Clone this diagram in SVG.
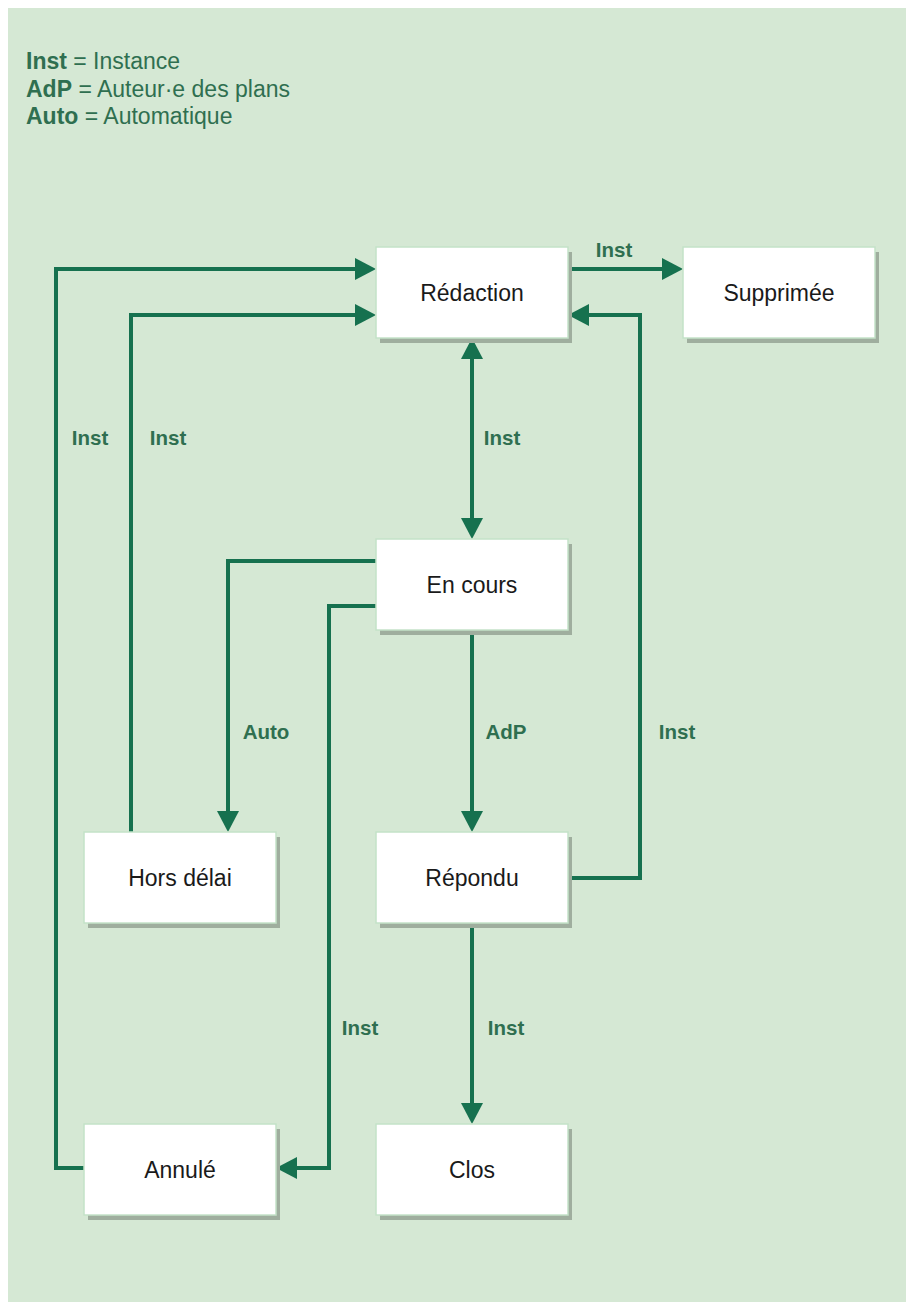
<svg xmlns="http://www.w3.org/2000/svg" width="906" height="1302" viewBox="0 0 906 1302">
  <style>
    .node rect.box { fill: #ffffff; stroke: #c4e2c8; stroke-width: 1.5; }
    .node rect.shadow { fill: #9fae9e; }
    .node text { font-family: "Liberation Sans", Arial, sans-serif; font-size: 23px; fill: #1a1a1a; text-anchor: middle; }
    .conn { fill: none; stroke: #16714f; stroke-width: 4; }
    .lbl { font-family: "Liberation Sans", Arial, sans-serif; font-size: 20.5px; font-weight: bold; fill: #2f6f50; text-anchor: middle; }
    .legend { font-family: "Liberation Sans", Arial, sans-serif; font-size: 23px; fill: #2f6f50; }
    .legend .b { font-weight: bold; }
  </style>
  <defs>
    <marker id="arr" viewBox="0 0 21 22" refX="0" refY="11" markerWidth="21" markerHeight="22" markerUnits="userSpaceOnUse" orient="auto-start-reverse">
      <path d="M0,0 L21,11 L0,22 Z" fill="#16714f"/>
    </marker>
  </defs>

  <rect x="8" y="8" width="898" height="1294" fill="#d5e8d4"/>

  <text class="legend" x="26" y="69"><tspan class="b">Inst</tspan> = Instance</text>
  <text class="legend" x="26" y="96.5"><tspan class="b">AdP</tspan> = Auteur·e des plans</text>
  <text class="legend" x="26" y="124"><tspan class="b">Auto</tspan> = Automatique</text>

  <g id="connectors">
    <path class="conn" d="M568,269 L662,269" marker-end="url(#arr)"/>
    <path class="conn" d="M472,359 L472,518" marker-start="url(#arr)" marker-end="url(#arr)"/>
    <path class="conn" d="M84,1168 L56,1168 L56,269 L355,269" marker-end="url(#arr)"/>
    <path class="conn" d="M131,832 L131,315 L355,315" marker-end="url(#arr)"/>
    <path class="conn" d="M376,561 L228,561 L228,811" marker-end="url(#arr)"/>
    <path class="conn" d="M376,606 L329,606 L329,1168 L297,1168" marker-end="url(#arr)"/>
    <path class="conn" d="M472,630 L472,811" marker-end="url(#arr)"/>
    <path class="conn" d="M568,878 L640,878 L640,315 L589,315" marker-end="url(#arr)"/>
    <path class="conn" d="M472,922 L472,1103" marker-end="url(#arr)"/>
    <text class="lbl" x="614" y="257">Inst</text>
    <text class="lbl" x="90" y="445">Inst</text>
    <text class="lbl" x="168" y="445">Inst</text>
    <text class="lbl" x="502" y="445">Inst</text>
    <text class="lbl" x="266" y="739">Auto</text>
    <text class="lbl" x="506" y="739">AdP</text>
    <text class="lbl" x="677" y="739">Inst</text>
    <text class="lbl" x="360" y="1035">Inst</text>
    <text class="lbl" x="506" y="1035">Inst</text>
  </g>

  <g id="redaction" class="node">
    <rect class="shadow" x="380" y="252" width="192" height="91"/>
    <rect class="box" x="376" y="247" width="192" height="91"/>
    <text x="472" y="300.5">Rédaction</text>
  </g>
  <g id="supprimee" class="node">
    <rect class="shadow" x="687" y="252" width="192" height="91"/>
    <rect class="box" x="683" y="247" width="192" height="91"/>
    <text x="779" y="300.5">Supprimée</text>
  </g>
  <g id="en-cours" class="node">
    <rect class="shadow" x="380" y="544" width="192" height="91"/>
    <rect class="box" x="376" y="539" width="192" height="91"/>
    <text x="472" y="592.5">En cours</text>
  </g>
  <g id="hors-delai" class="node">
    <rect class="shadow" x="88" y="837" width="192" height="91"/>
    <rect class="box" x="84" y="832" width="192" height="91"/>
    <text x="180" y="885.5">Hors délai</text>
  </g>
  <g id="repondu" class="node">
    <rect class="shadow" x="380" y="837" width="192" height="91"/>
    <rect class="box" x="376" y="832" width="192" height="91"/>
    <text x="472" y="885.5">Répondu</text>
  </g>
  <g id="annule" class="node">
    <rect class="shadow" x="88" y="1129" width="192" height="91"/>
    <rect class="box" x="84" y="1124" width="192" height="91"/>
    <text x="180" y="1177.5">Annulé</text>
  </g>
  <g id="clos" class="node">
    <rect class="shadow" x="380" y="1129" width="192" height="91"/>
    <rect class="box" x="376" y="1124" width="192" height="91"/>
    <text x="472" y="1177.5">Clos</text>
  </g>
</svg>
